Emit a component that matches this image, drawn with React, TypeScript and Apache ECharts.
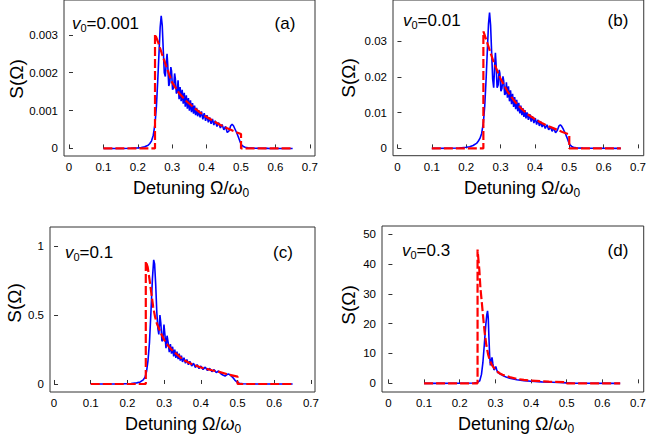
import React, { useEffect, useRef } from 'react';
import * as echarts from 'echarts';

type Pt = [number, number];

const xTicks = [0, 0.1, 0.2, 0.3, 0.4, 0.5, 0.6, 0.7];
const yTicksA = [0, 0.001, 0.002, 0.003];
const yTicksB = [0, 0.01, 0.02, 0.03];
const yTicksC = [0, 0.5, 1];
const yTicksD = [0, 10, 20, 30, 40, 50];

const panelTags = ['(a)', '(b)', '(c)', '(d)'];
const v0Values = ['0.001', '0.01', '0.1', '0.3'];

// (a) v0 = 0.001
const blueA: Pt[] = [
  [0.1, 0], [0.15, 0], [0.18, 0.005e-3], [0.2, 0.015e-3], [0.21, 0.025e-3], [0.22, 0.045e-3],
  [0.23, 0.085e-3], [0.235, 0.13e-3], [0.24, 0.2e-3], [0.245, 0.35e-3], [0.25, 0.65e-3],
  [0.254, 1.1e-3], [0.258, 1.8e-3], [0.262, 2.6e-3], [0.265, 3.2e-3], [0.268, 3.5e-3],
  [0.271, 3.25e-3], [0.274, 2.6e-3], [0.277, 2.0e-3], [0.28, 1.9e-3], [0.283, 2.3e-3],
  [0.285, 2.5e-3], [0.287, 2.2e-3], [0.29, 1.65e-3], [0.293, 1.75e-3], [0.296, 2.15e-3],
  [0.298, 2.05e-3], [0.301, 1.55e-3], [0.304, 1.6e-3], [0.307, 1.98e-3], [0.309, 1.85e-3],
  [0.312, 1.45e-3], [0.315, 1.5e-3], [0.317, 1.8e-3], [0.32, 1.3e-3], [0.323, 1.62e-3],
  [0.326, 1.25e-3], [0.329, 1.55e-3], [0.332, 1.18e-3], [0.335, 1.47e-3], [0.338, 1.1e-3],
  [0.341, 1.4e-3], [0.344, 1.05e-3], [0.347, 1.33e-3], [0.35, 1.0e-3], [0.353, 1.27e-3],
  [0.356, 0.96e-3], [0.359, 1.2e-3], [0.362, 0.92e-3], [0.365, 1.13e-3], [0.368, 0.88e-3],
  [0.371, 1.07e-3], [0.374, 0.85e-3], [0.377, 1.01e-3], [0.381, 0.82e-3], [0.385, 0.98e-3],
  [0.389, 0.77e-3], [0.393, 0.93e-3], [0.397, 0.73e-3], [0.401, 0.88e-3], [0.405, 0.69e-3],
  [0.409, 0.82e-3], [0.413, 0.65e-3], [0.417, 0.78e-3], [0.421, 0.62e-3], [0.425, 0.73e-3],
  [0.43, 0.58e-3], [0.435, 0.68e-3], [0.44, 0.54e-3], [0.445, 0.63e-3], [0.45, 0.49e-3],
  [0.455, 0.58e-3], [0.46, 0.42e-3], [0.465, 0.46e-3], [0.47, 0.6e-3], [0.474, 0.64e-3],
  [0.478, 0.6e-3], [0.483, 0.5e-3], [0.488, 0.4e-3], [0.493, 0.28e-3], [0.498, 0.16e-3],
  [0.502, 0.09e-3], [0.507, 0.05e-3], [0.512, 0.03e-3], [0.52, 0.015e-3], [0.54, 0.006e-3],
  [0.58, 0.002e-3], [0.65, 0],
];
const redA: Pt[] = [
  [0.1, 0], [0.25, 0], [0.25, 3.02e-3], [0.26, 2.78e-3], [0.27, 2.5e-3], [0.28, 2.24e-3],
  [0.29, 1.98e-3], [0.3, 1.74e-3], [0.32, 1.46e-3], [0.34, 1.26e-3], [0.36, 1.1e-3],
  [0.38, 0.95e-3], [0.4, 0.83e-3], [0.42, 0.72e-3], [0.44, 0.62e-3], [0.46, 0.53e-3],
  [0.48, 0.45e-3], [0.5, 0.38e-3], [0.5, 0], [0.65, 0],
];

// (b) v0 = 0.01
const blueB: Pt[] = [
  [0.1, 0], [0.15, 0.005e-2], [0.18, 0.01e-2], [0.2, 0.03e-2], [0.21, 0.045e-2], [0.22, 0.08e-2],
  [0.23, 0.14e-2], [0.235, 0.2e-2], [0.24, 0.28e-2], [0.245, 0.42e-2], [0.25, 0.72e-2],
  [0.254, 1.2e-2], [0.258, 1.95e-2], [0.262, 2.85e-2], [0.265, 3.5e-2], [0.268, 3.81e-2],
  [0.271, 3.45e-2], [0.274, 2.7e-2], [0.277, 1.95e-2], [0.28, 1.7e-2], [0.283, 2.35e-2],
  [0.285, 2.68e-2], [0.287, 2.35e-2], [0.29, 1.7e-2], [0.293, 1.78e-2], [0.296, 2.2e-2],
  [0.298, 2.1e-2], [0.301, 1.6e-2], [0.304, 1.68e-2], [0.307, 2.02e-2], [0.309, 1.9e-2],
  [0.312, 1.5e-2], [0.315, 1.55e-2], [0.317, 1.85e-2], [0.32, 1.42e-2], [0.323, 1.74e-2],
  [0.326, 1.32e-2], [0.329, 1.63e-2], [0.332, 1.24e-2], [0.335, 1.53e-2], [0.338, 1.16e-2],
  [0.341, 1.44e-2], [0.344, 1.1e-2], [0.347, 1.36e-2], [0.35, 1.04e-2], [0.353, 1.28e-2],
  [0.356, 0.98e-2], [0.359, 1.2e-2], [0.362, 0.93e-2], [0.365, 1.13e-2], [0.368, 0.88e-2],
  [0.371, 1.07e-2], [0.374, 0.84e-2], [0.377, 1.01e-2], [0.381, 0.8e-2], [0.385, 0.96e-2],
  [0.389, 0.75e-2], [0.393, 0.9e-2], [0.397, 0.71e-2], [0.401, 0.85e-2], [0.405, 0.67e-2],
  [0.409, 0.8e-2], [0.413, 0.63e-2], [0.417, 0.75e-2], [0.421, 0.6e-2], [0.425, 0.7e-2],
  [0.43, 0.56e-2], [0.435, 0.66e-2], [0.44, 0.52e-2], [0.445, 0.61e-2], [0.45, 0.48e-2],
  [0.455, 0.56e-2], [0.46, 0.44e-2], [0.465, 0.5e-2], [0.47, 0.63e-2], [0.474, 0.66e-2],
  [0.478, 0.62e-2], [0.483, 0.53e-2], [0.488, 0.43e-2], [0.493, 0.31e-2], [0.498, 0.18e-2],
  [0.502, 0.1e-2], [0.507, 0.055e-2], [0.512, 0.03e-2], [0.52, 0.015e-2], [0.54, 0.006e-2],
  [0.58, 0.002e-2], [0.65, 0],
];
const redB: Pt[] = [
  [0.1, 0], [0.25, 0], [0.25, 3.28e-2], [0.26, 3.0e-2], [0.27, 2.7e-2], [0.28, 2.42e-2],
  [0.29, 2.18e-2], [0.3, 1.95e-2], [0.32, 1.6e-2], [0.34, 1.33e-2], [0.36, 1.12e-2],
  [0.38, 0.95e-2], [0.4, 0.82e-2], [0.42, 0.71e-2], [0.44, 0.62e-2], [0.46, 0.54e-2],
  [0.48, 0.46e-2], [0.5, 0.39e-2], [0.5, 0], [0.65, 0],
];

// (c) v0 = 0.1
const blueC: Pt[] = [
  [0.1, 0], [0.18, 0.001], [0.21, 0.004], [0.225, 0.008], [0.235, 0.015], [0.243, 0.03],
  [0.248, 0.05], [0.252, 0.09], [0.256, 0.17], [0.26, 0.3], [0.264, 0.52], [0.268, 0.76],
  [0.2715, 0.9], [0.274, 0.87], [0.277, 0.72], [0.28, 0.52], [0.283, 0.4], [0.2855, 0.36],
  [0.2885, 0.5], [0.291, 0.44], [0.294, 0.31], [0.2965, 0.32], [0.2995, 0.43], [0.302, 0.36],
  [0.305, 0.26], [0.308, 0.35], [0.311, 0.3], [0.314, 0.23], [0.317, 0.29], [0.32, 0.22],
  [0.323, 0.27], [0.326, 0.2], [0.329, 0.25], [0.332, 0.19], [0.335, 0.235], [0.338, 0.18],
  [0.341, 0.22], [0.344, 0.17], [0.347, 0.205], [0.35, 0.16], [0.354, 0.19], [0.358, 0.15],
  [0.362, 0.178], [0.366, 0.14], [0.37, 0.165], [0.375, 0.13], [0.38, 0.15], [0.385, 0.12],
  [0.39, 0.14], [0.395, 0.112], [0.4, 0.13], [0.406, 0.105], [0.412, 0.122], [0.418, 0.098],
  [0.424, 0.113], [0.43, 0.09], [0.436, 0.104], [0.442, 0.083], [0.448, 0.094], [0.454, 0.076],
  [0.46, 0.065], [0.466, 0.058], [0.472, 0.07], [0.476, 0.072], [0.48, 0.065], [0.486, 0.05],
  [0.492, 0.03], [0.498, 0.015], [0.505, 0.006], [0.515, 0.002], [0.55, 0.0005], [0.65, 0],
];
const redC: Pt[] = [
  [0.1, 0], [0.25, 0], [0.25, 0.89], [0.255, 0.85], [0.26, 0.76], [0.265, 0.66], [0.27, 0.56],
  [0.275, 0.49], [0.28, 0.44], [0.29, 0.375], [0.3, 0.32], [0.31, 0.28], [0.32, 0.25],
  [0.33, 0.225], [0.35, 0.18], [0.37, 0.15], [0.4, 0.12], [0.43, 0.1], [0.45, 0.088],
  [0.47, 0.072], [0.5, 0.053], [0.5, 0], [0.65, 0],
];

// (d) v0 = 0.3
const blueD: Pt[] = [
  [0.1, 0], [0.2, 0.02], [0.24, 0.1], [0.25, 0.3], [0.256, 0.8], [0.261, 3], [0.265, 7],
  [0.269, 13], [0.273, 19.5], [0.276, 23], [0.278, 24.3], [0.28, 22], [0.282, 15], [0.284, 9],
  [0.286, 6], [0.288, 7.5], [0.2905, 8.7], [0.293, 6.5], [0.296, 4.5], [0.2985, 4.8],
  [0.301, 5.6], [0.304, 4.5], [0.307, 3.5], [0.31, 3.8], [0.313, 3.1], [0.317, 2.9],
  [0.322, 2.5], [0.33, 2.1], [0.34, 1.7], [0.36, 1.2], [0.38, 0.9], [0.4, 0.7], [0.43, 0.5],
  [0.46, 0.38], [0.48, 0.3], [0.5, 0.15], [0.52, 0.05], [0.55, 0.01], [0.65, 0],
];
const redD: Pt[] = [
  [0.1, 0], [0.25, 0], [0.25, 44.8], [0.255, 38], [0.258, 32], [0.262, 27], [0.265, 23],
  [0.27, 17], [0.275, 12.5], [0.28, 9.5], [0.285, 7.5], [0.29, 6.2], [0.3, 4.5], [0.31, 3.5],
  [0.32, 2.9], [0.34, 2.1], [0.36, 1.5], [0.38, 1.15], [0.4, 0.9], [0.45, 0.55], [0.5, 0.35],
  [0.5, 0], [0.65, 0],
];

const FONT = '"Liberation Sans", Arial, Helvetica, sans-serif';
const FRAME = '#333';

const layout = [
  { left: 64, top: -2, width: 251, height: 158, x: [-0.0145, 0.715], y: [-0.0002, 0.00392],
    sLabel: [16, 79], title: [191, 188], v0: [72, 23], tag: [285, 23] },
  { left: 393, top: -2, width: 258, height: 157.7, x: [-0.013, 0.7167], y: [-0.00205, 0.0416],
    sLabel: [348, 78], title: [522, 188], v0: [403, 20], tag: [618, 20] },
  { left: 50, top: 227, width: 265, height: 165, x: [-0.011, 0.711], y: [-0.058, 1.138],
    sLabel: [14.5, 303], title: [183, 424], v0: [65, 252], tag: [283, 252] },
  { left: 382, top: 226, width: 269, height: 166, x: [-0.018, 0.716], y: [-2.9, 52.7],
    sLabel: [348, 305], title: [516, 424], v0: [402, 250], tag: [618, 250] },
];

const panelData = [
  { yTicks: yTicksA, blue: blueA, red: redA },
  { yTicks: yTicksB, blue: blueB, red: redB },
  { yTicks: yTicksC, blue: blueC, red: redC },
  { yTicks: yTicksD, blue: blueD, red: redD },
];

function buildOption() {
  const grid: any[] = [];
  const xAxis: any[] = [];
  const yAxis: any[] = [];
  const series: any[] = [];
  const graphic: any[] = [];

  layout.forEach((L, i) => {
    const P = panelData[i];
    grid.push({
      left: L.left, top: L.top, width: L.width, height: L.height,
      show: true, borderColor: FRAME, borderWidth: 1, backgroundColor: 'transparent',
    });
    xAxis.push({
      type: 'value', gridIndex: i, min: L.x[0], max: L.x[1],
      axisLine: { show: false }, splitLine: { show: false },
      axisTick: { show: true, inside: true, length: 4, customValues: xTicks, lineStyle: { color: FRAME } },
      axisLabel: { show: true, customValues: xTicks, margin: 5, fontSize: 11.5, color: '#000', fontFamily: FONT,
        formatter: (v: number) => String(v) },
    });
    yAxis.push({
      type: 'value', gridIndex: i, min: L.y[0], max: L.y[1],
      axisLine: { show: false }, splitLine: { show: false },
      axisTick: { show: true, inside: true, length: 4, customValues: P.yTicks, lineStyle: { color: FRAME } },
      axisLabel: { show: true, customValues: P.yTicks, margin: 6, fontSize: 11.5, color: '#000', fontFamily: FONT,
        formatter: (v: number) => String(v) },
    });
    series.push({
      type: 'line', xAxisIndex: i, yAxisIndex: i, data: P.blue, showSymbol: false,
      lineStyle: { color: '#0000ff', width: 1.6 }, z: 2,
    });
    series.push({
      type: 'line', xAxisIndex: i, yAxisIndex: i, data: P.red, showSymbol: false,
      lineStyle: { color: '#ff0000', width: 2.2, type: [9, 3] }, z: 3,
    });
    graphic.push({
      type: 'text', x: L.sLabel[0], y: L.sLabel[1], rotation: Math.PI / 2,
      style: { text: 'S(Ω)', fontSize: 19, fontFamily: FONT, fill: '#000', align: 'center', verticalAlign: 'middle' },
    });
    graphic.push({
      type: 'text', x: L.title[0], y: L.title[1],
      style: {
        text: '{n|Detuning Ω/}{i|ω}{s|0}', align: 'center', verticalAlign: 'middle',
        rich: {
          n: { fontSize: 18, fontFamily: FONT, fill: '#000' },
          i: { fontSize: 18, fontFamily: FONT, fontStyle: 'italic', fill: '#000' },
          s: { fontSize: 12, fontFamily: FONT, fill: '#000', padding: [10, 0, 0, 0] },
        },
      },
    });
    graphic.push({
      type: 'text', x: L.v0[0], y: L.v0[1],
      style: {
        text: '{i|v}{s|0}{n|=' + v0Values[i] + '}', align: 'left', verticalAlign: 'middle',
        rich: {
          n: { fontSize: 17, fontFamily: FONT, fill: '#000' },
          i: { fontSize: 17, fontFamily: FONT, fontStyle: 'italic', fill: '#000' },
          s: { fontSize: 11, fontFamily: FONT, fill: '#000', padding: [10, 0, 0, 0] },
        },
      },
    });
    graphic.push({
      type: 'text', x: L.tag[0], y: L.tag[1],
      style: { text: panelTags[i], fontSize: 17, fontFamily: FONT, fill: '#000', align: 'center', verticalAlign: 'middle' },
    });
  });

  return {
    animation: false,
    backgroundColor: '#fff',
    grid, xAxis, yAxis, series, graphic,
  };
}

export default function App() {
  const ref = useRef<HTMLDivElement>(null);
  useEffect(() => {
    if (!ref.current) return;
    const chart = echarts.init(ref.current, null, { renderer: 'svg' });
    chart.setOption(buildOption() as any);
    return () => chart.dispose();
  }, []);
  return (
    <div
      ref={ref}
      style={{ position: 'absolute', left: 0, top: 0, width: 649, height: 437, background: '#fff' }}
    />
  );
}
